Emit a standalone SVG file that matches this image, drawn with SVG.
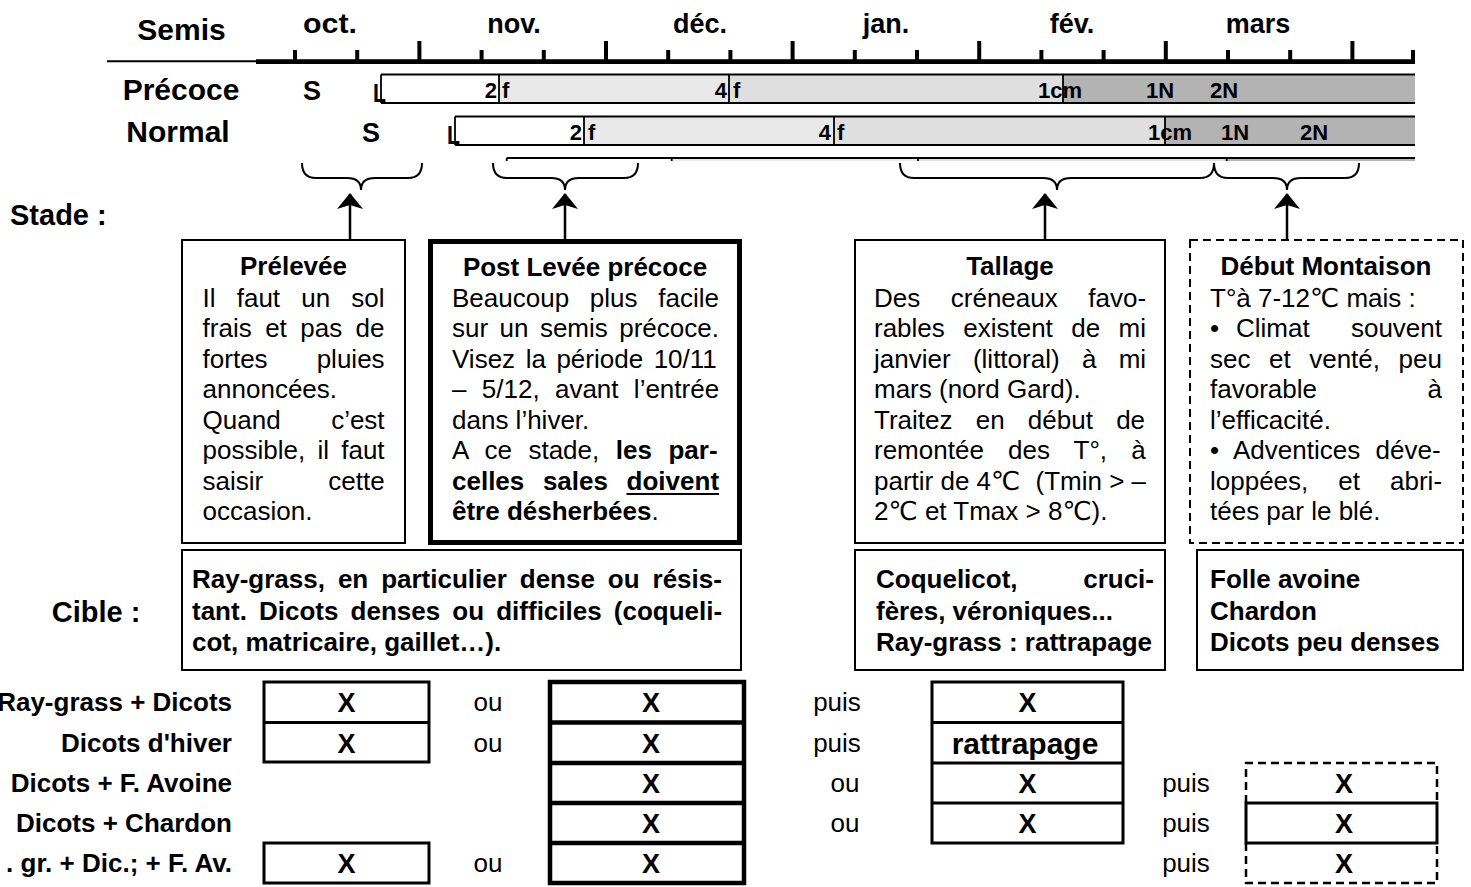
<svg xmlns="http://www.w3.org/2000/svg" width="1471" height="887" viewBox="0 0 1471 887">
<defs>
<style>
text{font-family:"Liberation Sans",Arial,"DejaVu Sans",sans-serif;fill:#000}
.b{font-weight:bold}
.mo{font-size:27px;font-weight:bold;text-anchor:middle}
.big{font-size:30px;font-weight:bold;text-anchor:middle}
.sl{font-size:27px;font-weight:bold;text-anchor:middle}
.bl{font-size:22px;font-weight:bold}
.bL{font-size:25px;font-weight:bold}
.bd{font-size:26px}
.hd{font-size:26px;font-weight:bold;text-anchor:middle}
.cb{font-size:26px;font-weight:bold}
.lab{font-size:26px;font-weight:bold;text-anchor:end}
.x{font-size:27px;font-weight:bold;text-anchor:middle}
.rt{font-size:30px;font-weight:bold;text-anchor:middle}
.ou{font-size:26px;text-anchor:middle}
.side{font-size:29px;font-weight:bold}
.end{text-anchor:end}
.box{fill:#fff;stroke:#000;stroke-width:2}
.dash{stroke-dasharray:8,5}
.brace{fill:none;stroke:#000;stroke-width:2}
.arrow{stroke:#000;stroke-width:2.5;marker-end:url(#ah)}
.ln{stroke:#000;stroke-width:1.8}
.tk{stroke:#000;stroke-width:4}
.t1{fill:none;stroke:#000;stroke-width:3}
.t2{fill:none;stroke:#000;stroke-width:4.5}
</style>
<marker id="ah" viewBox="0 -13 16 26" refX="15" refY="0" markerWidth="16" markerHeight="26" orient="auto" markerUnits="userSpaceOnUse">
<path d="M16,0 L0,-13 L4,0 L0,13 Z" fill="#000"/>
</marker>
</defs>
<rect width="1471" height="887" fill="#fff"/>

<g id="timeline">
<text class="big" x="181.5" y="40">Semis</text>
<text class="mo" x="330" y="33" textLength="54" lengthAdjust="spacingAndGlyphs">oct.</text>
<text class="mo" x="514" y="33">nov.</text>
<text class="mo" x="700" y="33">déc.</text>
<text class="mo" x="886" y="33">jan.</text>
<text class="mo" x="1072" y="33">fév.</text>
<text class="mo" x="1258" y="33">mars</text>
<line x1="107" y1="61.3" x2="256" y2="61.3" stroke="#000" stroke-width="2"/>
<line x1="256" y1="61.7" x2="1415" y2="61.7" stroke="#000" stroke-width="4.7"/>
<line class="tk" x1="295" y1="50" x2="295" y2="61"/>
<line class="tk" x1="357.2" y1="50" x2="357.2" y2="61"/>
<line class="tk" x1="419.4" y1="41" x2="419.4" y2="61"/>
<line class="tk" x1="481.6" y1="50" x2="481.6" y2="61"/>
<line class="tk" x1="543.8" y1="50" x2="543.8" y2="61"/>
<line class="tk" x1="606" y1="41" x2="606" y2="61"/>
<line class="tk" x1="668.2" y1="50" x2="668.2" y2="61"/>
<line class="tk" x1="730.4" y1="50" x2="730.4" y2="61"/>
<line class="tk" x1="792.6" y1="41" x2="792.6" y2="61"/>
<line class="tk" x1="854.8" y1="50" x2="854.8" y2="61"/>
<line class="tk" x1="917" y1="50" x2="917" y2="61"/>
<line class="tk" x1="979.2" y1="41" x2="979.2" y2="61"/>
<line class="tk" x1="1041.4" y1="50" x2="1041.4" y2="61"/>
<line class="tk" x1="1103.6" y1="50" x2="1103.6" y2="61"/>
<line class="tk" x1="1165.8" y1="41" x2="1165.8" y2="61"/>
<line class="tk" x1="1228" y1="50" x2="1228" y2="61"/>
<line class="tk" x1="1290.2" y1="50" x2="1290.2" y2="61"/>
<line class="tk" x1="1352.4" y1="41" x2="1352.4" y2="61"/>
<line class="tk" x1="1413" y1="50" x2="1413" y2="61"/>
</g>

<g id="precoce">
<text class="big" x="181" y="100">Précoce</text>
<text class="sl" x="312" y="100">S</text>
<rect x="381" y="74.5" width="118" height="28.5" fill="#fff"/>
<rect x="499" y="74.5" width="230" height="28.5" fill="#e9e9e9"/>
<rect x="729" y="74.5" width="334" height="28.5" fill="#dfdfdf"/>
<rect x="1063" y="74.5" width="352" height="28.5" fill="#b3b3b3"/>
<line class="ln" x1="381" y1="74.5" x2="1415" y2="74.5"/>
<line class="ln" x1="381" y1="103" x2="1415" y2="103"/>
<line class="ln" x1="381" y1="74.5" x2="381" y2="103"/>
<line class="ln" x1="499" y1="74.5" x2="499" y2="103"/>
<line class="ln" x1="729" y1="74.5" x2="729" y2="103"/>
<line class="ln" x1="1063" y1="74.5" x2="1063" y2="103"/>
<text class="bL" x="373" y="102" textLength="13" lengthAdjust="spacingAndGlyphs">L</text>
<text class="bl end" x="497" y="98">2</text>
<text class="bl" x="502" y="98">f</text>
<text class="bl end" x="727" y="98">4</text>
<text class="bl" x="733" y="98">f</text>
<text class="bl" x="1038" y="98">1cm</text>
<text class="bl" x="1146" y="98">1N</text>
<text class="bl" x="1210" y="98">2N</text>
</g>

<g id="normal">
<text class="big" x="178" y="142">Normal</text>
<text class="sl" x="371" y="142">S</text>
<rect x="455" y="116.5" width="129" height="28.5" fill="#fff"/>
<rect x="584" y="116.5" width="250" height="28.5" fill="#e9e9e9"/>
<rect x="834" y="116.5" width="331" height="28.5" fill="#dfdfdf"/>
<rect x="1165" y="116.5" width="250" height="28.5" fill="#b3b3b3"/>
<line class="ln" x1="455" y1="116.5" x2="1415" y2="116.5"/>
<line class="ln" x1="455" y1="145" x2="1415" y2="145"/>
<line class="ln" x1="455" y1="116.5" x2="455" y2="145"/>
<line class="ln" x1="584" y1="116.5" x2="584" y2="145"/>
<line class="ln" x1="834" y1="116.5" x2="834" y2="145"/>
<line class="ln" x1="1165" y1="116.5" x2="1165" y2="145"/>
<text class="bL" x="447" y="144" textLength="13" lengthAdjust="spacingAndGlyphs">L</text>
<text class="bl end" x="582" y="140">2</text>
<text class="bl" x="588" y="140">f</text>
<text class="bl end" x="831" y="140">4</text>
<text class="bl" x="837" y="140">f</text>
<text class="bl" x="1148" y="140">1cm</text>
<text class="bl" x="1221" y="140">1N</text>
<text class="bl" x="1300" y="140">2N</text>
</g>

<g id="tardif-strip">
<rect x="671.7" y="158" width="246.3" height="3" fill="#e9e9e9"/>
<rect x="918" y="158" width="308.7" height="3" fill="#dfdfdf"/>
<rect x="1226.7" y="158" width="188.3" height="3" fill="#b3b3b3"/>
<line class="ln" x1="506.7" y1="158" x2="1415" y2="158"/>
<line class="ln" x1="506.7" y1="158" x2="506.7" y2="161"/>
<line class="ln" x1="671.7" y1="158" x2="671.7" y2="161"/>
<line class="ln" x1="918" y1="158" x2="918" y2="161"/>
<line class="ln" x1="1226.7" y1="158" x2="1226.7" y2="161"/>
</g>

<g id="labels">
<text class="side" x="10" y="225">Stade :</text>
<text class="side" x="96" y="622" text-anchor="middle">Cible :</text>
</g>

<g id="connectors">
<path class="brace" d="M302,163 Q302,178 316,178 H347 Q361,178 361,190 Q361,178 375,178 H408 Q422,178 422,163"/>
<path class="brace" d="M493,163 Q493,178 507,178 H551 Q565,178 565,190 Q565,178 579,178 H624 Q638,178 638,163"/>
<path class="brace" d="M900,163 Q900,178 914,178 H1043 Q1057,178 1057,190 Q1057,178 1071,178 H1200 Q1214,178 1214,163"/>
<path class="brace" d="M1214,163 Q1214,178 1228,178 H1273 Q1287,178 1287,190 Q1287,178 1301,178 H1345 Q1359,178 1359,163"/>
<line class="arrow" x1="350" y1="239" x2="350" y2="194"/>
<line class="arrow" x1="565" y1="239" x2="565" y2="194"/>
<line class="arrow" x1="1045" y1="239" x2="1045" y2="194"/>
<line class="arrow" x1="1287" y1="239" x2="1287" y2="194"/>
</g>

<g id="prelevee">
<rect class="box" x="182" y="240" width="223" height="303"/>
<text class="hd" x="293.5" y="275">Prélevée</text>
<text class="bd" x="202.6" y="306.5" word-spacing="13.9">Il faut un sol</text>
<text class="bd" x="202.6" y="337" word-spacing="6.2">frais et pas de</text>
<text class="bd" x="202.6" y="367.5">fortes</text>
<text class="bd end" x="384.6" y="367.5">pluies</text>
<text class="bd" x="202.6" y="398">annoncées.</text>
<text class="bd" x="202.6" y="428.5">Quand</text>
<text class="bd end" x="384.6" y="428.5">c’est</text>
<text class="bd" x="202.6" y="459" word-spacing="5">possible, il faut</text>
<text class="bd" x="202.6" y="489.5">saisir</text>
<text class="bd end" x="384.6" y="489.5">cette</text>
<text class="bd" x="202.6" y="520">occasion.</text>
</g>

<g id="post-levee">
<rect x="430.5" y="241.5" width="309" height="301" fill="#fff" stroke="#000" stroke-width="5"/>
<text class="hd" x="585" y="276">Post Levée précoce</text>
<text class="bd" x="452" y="306.5" word-spacing="13.5">Beaucoup plus facile</text>
<text class="bd" x="452" y="337" word-spacing="4.2">sur un semis précoce.</text>
<text class="bd" x="452" y="367.5" word-spacing="3.3">Visez la période 10/11</text>
<text class="bd" x="452" y="398" word-spacing="8.1">– 5/12, avant l’entrée</text>
<text class="bd" x="452" y="428.5">dans l’hiver.</text>
<text class="bd" x="452" y="459" word-spacing="9.3">A ce stade, <tspan font-weight="bold">les par-</tspan></text>
<text class="bd b" x="452" y="489.5" word-spacing="11.4">celles sales doivent</text>
<line x1="626.5" y1="494" x2="719" y2="494" stroke="#000" stroke-width="2"/>
<text class="bd" x="452" y="520"><tspan font-weight="bold">être désherbées</tspan>.</text>
</g>

<g id="tallage">
<rect class="box" x="855" y="240" width="310" height="303"/>
<text class="hd" x="1010" y="275">Tallage</text>
<text class="bd" x="874" y="306.5" word-spacing="23.3">Des créneaux favo-</text>
<text class="bd" x="874" y="337" word-spacing="11.2">rables existent de mi</text>
<text class="bd" x="874" y="367.5" word-spacing="15.1">janvier (littoral) à mi</text>
<text class="bd" x="874" y="398">mars (nord Gard).</text>
<text class="bd" x="874" y="428.5" word-spacing="16">Traitez en début de</text>
<text class="bd" x="874" y="459" word-spacing="16.9">remontée des T°, à</text>
<text class="bd" x="874" y="489.5">partir de 4℃</text>
<text class="bd end" x="1146" y="489.5">(Tmin &gt; –</text>
<text class="bd" x="874" y="520">2℃ et Tmax &gt; 8℃).</text>
</g>

<g id="debut-montaison">
<rect class="box dash" x="1190" y="240" width="273" height="303"/>
<text class="hd" x="1326" y="275">Début Montaison</text>
<text class="bd" x="1210" y="306.5">T°à 7-12℃ mais :</text>
<text class="bd" x="1210" y="337">•</text>
<text class="bd" x="1236" y="337">Climat</text>
<text class="bd end" x="1442" y="337">souvent</text>
<text class="bd" x="1210" y="367.5" word-spacing="11.3">sec et venté, peu</text>
<text class="bd" x="1210" y="398">favorable</text>
<text class="bd end" x="1442" y="398">à</text>
<text class="bd" x="1210" y="428.5">l’efficacité.</text>
<text class="bd" x="1210" y="459" word-spacing="8.1">• Adventices déve-</text>
<text class="bd" x="1210" y="489.5" word-spacing="22.8">loppées, et abri-</text>
<text class="bd" x="1210" y="520">tées par le blé.</text>
</g>

<g id="cible-1">
<rect class="box" x="182" y="550" width="559" height="120"/>
<text class="cb" x="192" y="588" word-spacing="5.7">Ray-grass, en particulier dense ou résis-</text>
<text class="cb" x="192" y="619.5" word-spacing="4.9">tant. Dicots denses ou difficiles (coqueli-</text>
<text class="cb" x="192" y="651">cot, matricaire, gaillet…).</text>
</g>
<g id="cible-2">
<rect class="box" x="855" y="550" width="310" height="120"/>
<text class="cb" x="876" y="588">Coquelicot,</text>
<text class="cb end" x="1154" y="588">cruci-</text>
<text class="cb" x="876" y="619.5">fères, véroniques...</text>
<text class="cb" x="876" y="651">Ray-grass : rattrapage</text>
</g>
<g id="cible-3">
<rect class="box" x="1197" y="550" width="266" height="120"/>
<text class="cb" x="1210" y="588">Folle avoine</text>
<text class="cb" x="1210" y="619.5">Chardon</text>
<text class="cb" x="1210" y="651">Dicots peu denses</text>
</g>

<g id="table-labels">
<text class="lab" x="232" y="711">Ray-grass + Dicots</text>
<text class="lab" x="232" y="752">Dicots d'hiver</text>
<text class="lab" x="232" y="792">Dicots + F. Avoine</text>
<text class="lab" x="232" y="832">Dicots + Chardon</text>
<text class="lab" x="232" y="872">. gr. + Dic.; + F. Av.</text>
</g>

<g id="col-1">
<rect class="t1" x="264" y="682" width="165" height="80"/>
<line class="t1" x1="264" y1="722.5" x2="429" y2="722.5"/>
<rect class="t1" x="264" y="843" width="165" height="40"/>
<text class="x" x="346.5" y="712">X</text>
<text class="x" x="346.5" y="752.5">X</text>
<text class="x" x="346.5" y="873">X</text>
</g>

<g id="conj-1">
<text class="ou" x="488" y="711">ou</text>
<text class="ou" x="488" y="752">ou</text>
<text class="ou" x="488" y="872">ou</text>
</g>

<g id="col-2">
<rect class="t2" x="550" y="682" width="194" height="201"/>
<line class="t2" x1="550" y1="722.5" x2="744" y2="722.5"/>
<line class="t2" x1="550" y1="763" x2="744" y2="763"/>
<line class="t2" x1="550" y1="803" x2="744" y2="803"/>
<line class="t2" x1="550" y1="843" x2="744" y2="843"/>
<text class="x" x="651" y="712">X</text>
<text class="x" x="651" y="752.5">X</text>
<text class="x" x="651" y="793">X</text>
<text class="x" x="651" y="833">X</text>
<text class="x" x="651" y="873">X</text>
</g>

<g id="conj-2">
<text class="ou" x="837" y="711">puis</text>
<text class="ou" x="837" y="752">puis</text>
<text class="ou" x="845" y="792">ou</text>
<text class="ou" x="845" y="832">ou</text>
</g>

<g id="col-3">
<rect class="t1" x="932" y="682" width="191" height="161"/>
<line class="t1" x1="932" y1="722.5" x2="1123" y2="722.5"/>
<line class="t1" x1="932" y1="763" x2="1123" y2="763"/>
<line class="t1" x1="932" y1="803" x2="1123" y2="803"/>
<text class="x" x="1027.5" y="712">X</text>
<text class="rt" x="1025" y="753.5">rattrapage</text>
<text class="x" x="1027.5" y="793">X</text>
<text class="x" x="1027.5" y="833">X</text>
</g>

<g id="conj-3">
<text class="ou" x="1186" y="792">puis</text>
<text class="ou" x="1186" y="832">puis</text>
<text class="ou" x="1186" y="872">puis</text>
</g>

<g id="col-4">
<path d="M1246,803 V763 H1437 V803" fill="none" stroke="#000" stroke-width="2.5" stroke-dasharray="8,5"/>
<rect class="t1" x="1246" y="803" width="191" height="40"/>
<path d="M1246,843 V883 H1437 V843" fill="none" stroke="#000" stroke-width="2.5" stroke-dasharray="8,5"/>
<text class="x" x="1344" y="793">X</text>
<text class="x" x="1344" y="833">X</text>
<text class="x" x="1344" y="873">X</text>
</g>
</svg>
